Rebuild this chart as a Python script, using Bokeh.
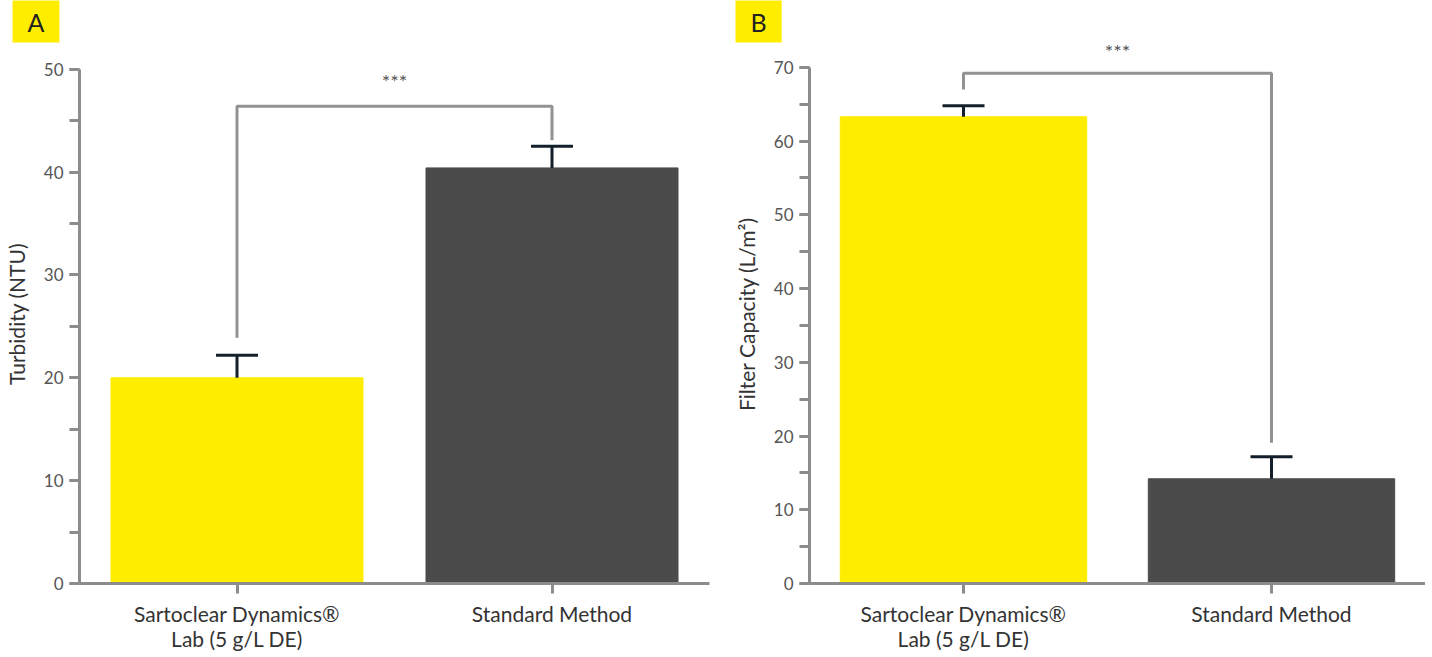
from bokeh.plotting import figure
from bokeh.models import (ColumnDataSource, FactorRange, Range1d, Whisker, TeeHead,
                          SingleIntervalTicker, Title)
from bokeh.transform import dodge
from bokeh.layouts import row
from bokeh.core.properties import value
from bokeh.embed import file_html
from bokeh.resources import INLINE

# ---- data ----
categories = ["Sartoclear Dynamics®\nLab (5 g/L DE)", "Standard Method"]
turbidity = [20.0, 40.4]
turbidity_err = [2.2, 2.1]
capacity = [63.3, 14.2]
capacity_err = [1.5, 3.0]
# significance brackets: [left leg bottom, bracket top, right leg bottom]
turb_bracket = [23.9, 46.4, 43.1]
turb_star_y = 48.9
cap_bracket = [67.0, 69.2, 19.1]
cap_star_y = 72.2
star_text = "***"
bar_colors = ["#FFED00", "#4B4B4B"]

FONT = "Lato"
AXIS_GREY = "#8C8C8C"
ERR_COLOR = "#13202B"


def make_panel(letter, vals, errs, bracket, star_y, ylabel, ybound, yend,
               frame_w, bl, br, letter_offset):
    src = ColumnDataSource(dict(cat=categories, val=vals,
                                upper=[v + e for v, e in zip(vals, errs)],
                                color=bar_colors))
    title = Title(text=letter, align="left", offset=letter_offset, standoff=0,
                  vertical_align="top", text_font=FONT, text_font_size="25px",
                  text_font_style="normal", text_color="#222222",
                  background_fill_color="#FFED00", padding=(15, 6))
    p = figure(x_range=FactorRange(*categories, range_padding=0),
               y_range=Range1d(0, yend), frame_width=frame_w, frame_height=539,
               output_backend="svg", toolbar_location=None, title=title,
               min_border_left=bl, min_border_right=br,
               min_border_top=44, min_border_bottom=66)
    p.outline_line_color = None
    p.xgrid.visible = False
    p.ygrid.visible = False
    p.background_fill_color = "white"
    p.border_fill_color = "white"

    p.vbar(x="cat", top="val", width=0.8, color="color", source=src)
    wh = Whisker(base="cat", upper="upper", lower="val", source=src,
                 dimension="height", line_color=ERR_COLOR, line_width=3,
                 upper_head=TeeHead(size=42, line_color=ERR_COLOR, line_width=3),
                 lower_head=None, level="overlay")
    p.add_layout(wh)

    c0, c1 = categories
    p.line(x=[c0, c0, c1, c1], y=[bracket[0], bracket[1], bracket[1], bracket[2]],
           line_color="#929292", line_width=3)
    ssrc = ColumnDataSource(dict(cat=[c0], y=[star_y], t=[star_text]))
    p.text(x=dodge("cat", 0.5, range=p.x_range), y="y", text="t", source=ssrc,
           text_align="center", text_baseline="middle", text_font=value(FONT),
           text_font_size="20px", text_color="#555555")

    for ax in (p.xaxis[0], p.yaxis[0]):
        ax.axis_line_color = AXIS_GREY
        ax.axis_line_width = 3
        ax.major_tick_line_color = AXIS_GREY
        ax.major_tick_line_width = 3
        ax.major_tick_out = 10
        ax.major_tick_in = 0
        ax.major_label_text_font = FONT

    xa = p.xaxis[0]
    xa.major_label_text_font_size = "21px"
    xa.major_label_text_color = "#333333"
    xa.major_label_text_line_height = 1.0
    xa.major_label_standoff = 7
    xa.major_label_orientation = "horizontal"

    ya = p.yaxis[0]
    ya.ticker = SingleIntervalTicker(interval=10, num_minor_ticks=2)
    ya.bounds = (0, ybound)
    ya.minor_tick_line_color = AXIS_GREY
    ya.minor_tick_line_width = 3
    ya.minor_tick_out = 10
    ya.minor_tick_in = 0
    ya.major_label_text_font_size = "17px"
    ya.major_label_text_color = "#555555"
    ya.major_label_standoff = 6
    ya.axis_label = ylabel
    ya.axis_label_text_font = FONT
    ya.axis_label_text_font_size = "21px"
    ya.axis_label_text_font_style = "normal"
    ya.axis_label_text_color = "#333333"
    ya.axis_label_standoff = 12
    return p


pa = make_panel("A", turbidity, turbidity_err, turb_bracket, turb_star_y,
                "Turbidity (NTU)", 50, 52.4, 630, 70, 12, -67)
pb = make_panel("B", capacity, capacity_err, cap_bracket, cap_star_y,
                "Filter Capacity (L/m²)", 70, 73.1, 616, 88, 0, -74)

layout = row(pa, pb)
open("out.html", "w").write(file_html(layout, INLINE))
